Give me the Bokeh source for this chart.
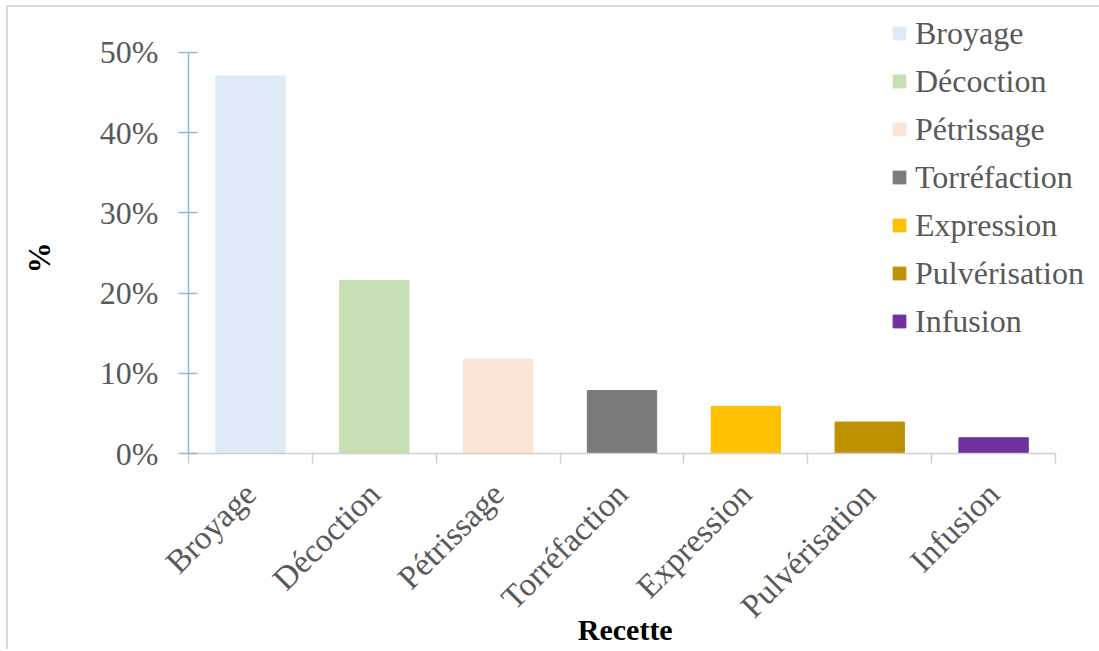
import math
from bokeh.plotting import figure
from bokeh.models import (ColumnDataSource, Range1d, FixedTicker, NumeralTickFormatter,
                          Legend, LegendItem)
from bokeh.embed import file_html
from bokeh.resources import INLINE

categories = ["Broyage", "Décoction", "Pétrissage", "Torréfaction", "Expression", "Pulvérisation", "Infusion"]
values = [0.4706, 0.2157, 0.1176, 0.0784, 0.0588, 0.0392, 0.0196]
colors = ["#deeaf6", "#c6e0b4", "#fbe5d6", "#7b7b7b", "#ffc000", "#bf9000", "#7030a0"]
y_ticks = [0, 0.1, 0.2, 0.3, 0.4, 0.5]

FONT = "Liberation Serif"
GRAY = "#595959"
NB = "\u00a0"

n = len(categories)
xs = [i + 0.5 for i in range(n)]
src = ColumnDataSource(dict(x=xs, top=values, color=colors, cat=categories))

# frame extends above the 50% tick and right of the last category so the
# legend (drawn inside the frame) is not clipped; axis lines are bounded.
p = figure(frame_width=911, frame_height=446,
           x_range=Range1d(0, 7.355), y_range=Range1d(0, 0.5561),
           output_backend="svg", toolbar_location=None,
           min_border_left=180, min_border_right=0, min_border_top=0, min_border_bottom=0)
p.margin = (5, 0, 0, 6)
p.styles = {"border-left": "2px solid #d9d9d9", "border-top": "2px solid #d9d9d9"}
p.outline_line_color = None
p.xgrid.visible = False
p.ygrid.visible = False

r = p.vbar(x="x", top="top", bottom=0, width=0.56, color="color", source=src)

# x axis
xa = p.xaxis[0]
xa.bounds = (0, n)
xa.ticker = FixedTicker(ticks=xs, minor_ticks=list(range(n + 1)))
xa.major_label_overrides = {x: c for x, c in zip(xs, categories)}
xa.major_tick_line_color = None
xa.major_tick_in = 0
xa.major_tick_out = 10
xa.minor_tick_in = 0
xa.minor_tick_out = 10
xa.minor_tick_line_color = "#d0d0d0"
xa.minor_tick_line_width = 1.5
xa.axis_line_color = "#d0d0d0"
xa.axis_line_width = 1.5
xa.major_label_orientation = math.pi / 4
xa.major_label_text_font = FONT
xa.major_label_text_font_size = "33px"
xa.major_label_text_color = GRAY
xa.major_label_standoff = 25
xa.axis_label = "Recette" + NB * 5
xa.axis_label_text_font = FONT
xa.axis_label_text_font_style = "bold"
xa.axis_label_text_font_size = "30px"
xa.axis_label_text_color = "#000000"
xa.axis_label_standoff = -27

# y axis
ya = p.yaxis[0]
ya.bounds = (0, 0.5)
ya.ticker = FixedTicker(ticks=y_ticks)
ya.formatter = NumeralTickFormatter(format="0%")
ya.axis_line_color = "#8db8e4"
ya.axis_line_width = 1.5
ya.major_tick_line_color = "#8db8e4"
ya.major_tick_line_width = 1.5
ya.major_tick_in = 9
ya.major_tick_out = 10
ya.minor_tick_line_color = None
ya.major_label_text_font = FONT
ya.major_label_text_font_size = "32px"
ya.major_label_text_color = GRAY
ya.major_label_standoff = 20
ya.axis_label = "%" + NB * 7
ya.axis_label_text_font = FONT
ya.axis_label_text_font_style = "bold"
ya.axis_label_text_font_size = "31px"
ya.axis_label_text_color = "#000000"
ya.axis_label_standoff = 40

items = [LegendItem(label=c, renderers=[r], index=i) for i, c in enumerate(categories)]
legend = Legend(items=items, location=(703, 108), padding=0, margin=0, spacing=0,
                label_height=48, glyph_width=16, glyph_height=16, label_standoff=8,
                label_text_font=FONT, label_text_font_size="32px", label_text_color=GRAY,
                border_line_color=None, background_fill_alpha=0)
p.add_layout(legend, "center")

open("out.html", "w").write(file_html(p, INLINE))
